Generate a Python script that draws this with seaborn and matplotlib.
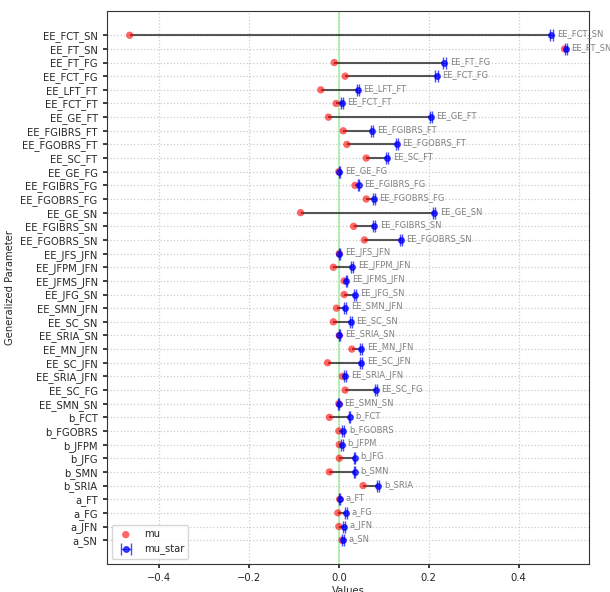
import numpy as np
import pandas as pd
import matplotlib
matplotlib.use("Agg")
import matplotlib.pyplot as plt
import seaborn as sns

# Parametros (de cima para baixo)
parametros = ["EE_FCT_SN", "EE_FT_SN", "EE_FT_FG", "EE_FCT_FG", "EE_LFT_FT",
              "EE_FCT_FT", "EE_GE_FT", "EE_FGIBRS_FT", "EE_FGOBRS_FT", "EE_SC_FT",
              "EE_GE_FG", "EE_FGIBRS_FG", "EE_FGOBRS_FG", "EE_GE_SN", "EE_FGIBRS_SN",
              "EE_FGOBRS_SN", "EE_JFS_JFN", "EE_JFPM_JFN", "EE_JFMS_JFN", "EE_JFG_SN",
              "EE_SMN_JFN", "EE_SC_SN", "EE_SRIA_SN", "EE_MN_JFN", "EE_SC_JFN",
              "EE_SRIA_JFN", "EE_SC_FG", "EE_SMN_SN", "b_FCT", "b_FGOBRS",
              "b_JFPM", "b_JFG", "b_SMN", "b_SRIA", "a_FT",
              "a_FG", "a_JFN", "a_SN"]

mu = [-0.465, 0.502, -0.010, 0.014, -0.040,
      -0.006, -0.023, 0.010, 0.018, 0.061,
      0.000, 0.036, 0.061, -0.085, 0.033,
      0.057, 0.001, -0.012, 0.012, 0.012,
      -0.005, -0.012, 0.001, 0.029, -0.025,
      0.008, 0.014, 0.000, -0.021, 0.000,
      0.001, 0.001, -0.021, 0.054, 0.002,
      -0.002, 0.000, 0.007]

mu_star = [0.473, 0.505, 0.235, 0.218, 0.042,
           0.007, 0.205, 0.073, 0.129, 0.108,
           0.001, 0.044, 0.078, 0.212, 0.079,
           0.138, 0.001, 0.030, 0.017, 0.036,
           0.014, 0.027, 0.001, 0.050, 0.050,
           0.014, 0.082, 0.000, 0.024, 0.010,
           0.007, 0.035, 0.035, 0.088, 0.002,
           0.016, 0.012, 0.010]

mu_star_conf = [0.004, 0.003, 0.003, 0.003, 0.002,
                0.002, 0.003, 0.002, 0.002, 0.002,
                0.001, 0.002, 0.002, 0.002, 0.002,
                0.002, 0.001, 0.002, 0.002, 0.002,
                0.002, 0.002, 0.001, 0.002, 0.002,
                0.002, 0.002, 0.001, 0.002, 0.002,
                0.002, 0.002, 0.002, 0.002, 0.001,
                0.002, 0.002, 0.002]

dados = pd.DataFrame({"Parameter": parametros, "mu": mu,
                      "mu_star": mu_star, "conf": mu_star_conf})
dados["pos"] = np.arange(len(dados))

sns.set_theme(style="ticks")
plt.rcParams["font.family"] = ["DejaVu Sans"]

fig, ax = plt.subplots(figsize=(6.1, 5.92), dpi=100)
fig.subplots_adjust(left=0.175, right=0.966, bottom=0.047, top=0.981)

# linhas ligando mu e mu_star
ax.hlines(dados["pos"], dados["mu"], dados["mu_star"], color="black",
          alpha=0.65, lw=1.5, zorder=2)

# mu
sns.scatterplot(data=dados, x="mu", y="pos", color="red", alpha=0.6, s=28,
                edgecolor="none", label="mu", ax=ax, zorder=3)

# mu_star com barras de erro
ax.errorbar(dados["mu_star"], dados["pos"], xerr=dados["conf"], fmt="o",
            color="blue", ecolor="blue", alpha=0.7, markersize=4,
            capsize=4.5, elinewidth=1, label="mu_star", zorder=4)

for _, linha in dados.iterrows():
    ax.annotate(linha["Parameter"], (linha["mu_star"], linha["pos"]),
                xytext=(4, 1), textcoords="offset points", fontsize=6,
                color="gray", va="center", ha="left")

ax.axvline(0, color="lightgreen", alpha=0.8, lw=1.2, zorder=1)

ax.set_yticks(dados["pos"])
ax.set_yticklabels(dados["Parameter"], fontsize=7.2)
ax.set_ylim(len(dados) - 1 + 1.76, -1.76)
ax.set_xlim(-0.516, 0.557)
ax.set_xticks([-0.4, -0.2, 0.0, 0.2, 0.4])
ax.tick_params(axis="x", labelsize=7.2, length=3)
ax.tick_params(axis="y", length=3)
ax.grid(True, linestyle=":", color="#cccccc", lw=0.9)
ax.set_axisbelow(True)
for s in ax.spines.values():
    s.set_visible(True)
    s.set_color("#333333")
    s.set_linewidth(0.8)

ax.set_xlabel("Values", fontsize=7.2, labelpad=2)
ax.set_ylabel("Generalized Parameter", fontsize=7.2)

ax.legend(loc="lower left", fontsize=7.2)

plt.savefig("out.png", dpi=100)
